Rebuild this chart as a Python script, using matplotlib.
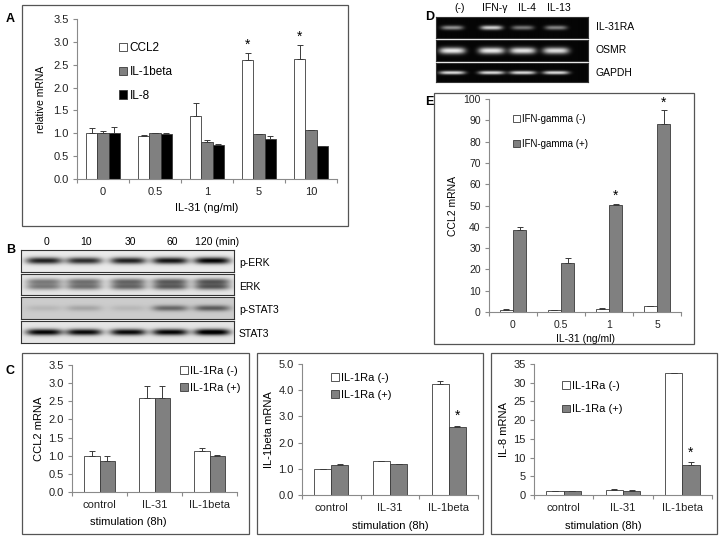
import numpy as np
import matplotlib
matplotlib.use('Agg')
import matplotlib.pyplot as plt
from matplotlib.patches import Rectangle, Patch
from matplotlib.ticker import FormatStrFormatter

plt.rcParams['font.family'] = ['Liberation Sans', 'DejaVu Sans']

W, H = 720, 538

# panel A
a_doses = ['0', '0.5', '1', '5', '10']
a_ccl2 = [1.0, 0.94, 1.37, 2.60, 2.62]
a_ccl2_err = [0.11, 0.02, 0.29, 0.16, 0.32]
a_il1b = [1.01, 1.0, 0.82, 0.98, 1.08]
a_il1b_err = [0.03, 0.0, 0.03, 0.0, 0.0]
a_il8 = [1.0, 0.99, 0.74, 0.88, 0.72]
a_il8_err = [0.14, 0.01, 0.03, 0.05, 0.0]
a_star = [False, False, False, True, True]

# panel B (western blot, relative band darkness per lane)
b_times = ['0', '10', '30', '60', '120']
b_rows = ['p-ERK', 'ERK', 'p-STAT3', 'STAT3']
b_perk = [0.80, 0.75, 0.80, 0.85, 0.92]
b_erk = [0.50, 0.55, 0.60, 0.65, 0.68]
b_pstat3 = [0.08, 0.15, 0.08, 0.40, 0.45]
b_stat3 = [0.90, 0.88, 0.88, 0.90, 0.98]

# panel D (RT-PCR gel, band brightness per lane)
d_lanes = ['(-)', 'IFN-γ', 'IL-4', 'IL-13']
d_rows = ['IL-31RA', 'OSMR', 'GAPDH']
d_il31ra = [0.55, 0.80, 0.45, 0.50]
d_osmr = [0.90, 0.90, 0.88, 0.85]
d_gapdh = [0.85, 0.85, 0.85, 0.85]

# panel E
e_doses = ['0', '0.5', '1', '5']
e_minus = [1.0, 0.8, 1.5, 2.6]
e_minus_err = [0.2, 0.1, 0.3, 0.2]
e_plus = [38.4, 23.0, 50.3, 88.4]
e_plus_err = [1.5, 2.5, 0.5, 6.3]
e_star = [False, False, True, True]

# panel C
c_groups = ['control', 'IL-31', 'IL-1beta']
c1_minus = [1.0, 2.6, 1.14]
c1_minus_err = [0.12, 0.31, 0.06]
c1_plus = [0.85, 2.6, 0.98]
c1_plus_err = [0.15, 0.33, 0.05]
c2_minus = [1.0, 1.29, 4.23]
c2_minus_err = [0.01, 0.01, 0.14]
c2_plus = [1.14, 1.17, 2.60]
c2_plus_err = [0.05, 0.02, 0.04]
c2_star = [False, False, True]
c3_minus = [1.07, 1.43, 32.5]
c3_minus_err = [0.1, 0.1, 0.0]
c3_plus = [0.98, 1.16, 8.0]
c3_plus_err = [0.05, 0.1, 0.7]
c3_star = [False, False, True]

GRAY = '#808080'
EDGE = '#3a3a3a'
AXC = '#8a8a8a'

fig = plt.figure(figsize=(W / 100, H / 100), dpi=100)


def px_axes(x0, y0, x1, y1):
    return fig.add_axes([x0 / W, 1 - y1 / H, (x1 - x0) / W, (y1 - y0) / H])


def box(x0, y0, x1, y1):
    fig.patches.append(Rectangle((x0 / W, 1 - y1 / H), (x1 - x0) / W, (y1 - y0) / H,
                                 transform=fig.transFigure, fill=False,
                                 edgecolor='#555555', linewidth=0.9))


def ftext(x, y, s, **kw):
    fig.text(x / W, 1 - y / H, s, **kw)


def excel_axes(ax, labels, ymax, ystep, fmt, fs=7.5):
    n = len(labels)
    ax.set_xlim(0, n)
    ax.set_ylim(0, ymax)
    ax.patch.set_alpha(0)
    for s in ['top', 'right']:
        ax.spines[s].set_visible(False)
    for s in ['left', 'bottom']:
        ax.spines[s].set_color(AXC)
        ax.spines[s].set_linewidth(0.8)
    ax.set_xticks(np.arange(n + 1))
    ax.set_xticklabels([])
    ax.set_xticks(np.arange(n) + 0.5, labels, minor=True)
    ax.tick_params(axis='x', which='major', length=3, color=AXC, width=0.8)
    ax.tick_params(axis='x', which='minor', length=0, labelsize=fs, pad=6, colors='#222222')
    ax.set_yticks(np.arange(0, ymax + ystep / 2, ystep))
    ax.yaxis.set_major_formatter(FormatStrFormatter(fmt))
    ax.tick_params(axis='y', length=3, color=AXC, width=0.8, labelsize=fs,
                   labelcolor='#222222', pad=3)


def bars(ax, x, vals, errs, color, w):
    ax.bar(x, vals, w, color=color, edgecolor=EDGE, linewidth=0.6, zorder=2)
    ax.errorbar(x, vals, yerr=[np.zeros(len(errs)), errs], fmt='none', ecolor=EDGE,
                elinewidth=0.7, capsize=2, capthick=0.7, zorder=3)


def stars(ax, x, vals, errs, flags, off):
    for xi, v, e, f in zip(x, vals, errs, flags):
        if f:
            ax.text(xi, v + e + off, '*', ha='center', va='bottom', fontsize=10)


def legend(ax, labels, colors, x, y, spacing, fs=7.5):
    handles = [Patch(facecolor=c, edgecolor=EDGE, linewidth=0.6) for c in colors]
    ax.legend(handles, labels, loc='upper left', bbox_to_anchor=(x / W, 1 - y / H),
              bbox_transform=fig.transFigure, frameon=False, fontsize=fs,
              handlelength=0.7, handleheight=0.7, handletextpad=0.2,
              labelspacing=spacing, borderpad=0, borderaxespad=0)


def strip(x0, y0, x1, y1, lane_x, levels, bg, sx, sy, gel=False, double=False):
    ax = px_axes(x0, y0, x1, y1)
    sc = 3
    h, w = (y1 - y0) * sc, (x1 - x0) * sc
    yy, xx = np.mgrid[0:h, 0:w] / sc
    cy = (y1 - y0) / 2
    band = np.zeros((h, w))
    for cx, lv in zip(lane_x, levels):
        prof = np.exp(-((xx - (cx - x0)) / sx) ** 4)
        if double:
            vert = 0.8 * np.exp(-((yy - cy + 2.5) / sy) ** 2) + 0.8 * np.exp(-((yy - cy - 2.5) / sy) ** 2)
        else:
            vert = np.exp(-((yy - cy) / sy) ** 2)
        band += lv * prof * vert
    if gel:
        img = np.clip(bg + band, 0, 1)
    else:
        img = np.clip(bg - band, 0, 1)
    ax.imshow(img, cmap='gray', vmin=0, vmax=1, aspect='auto', interpolation='bilinear')
    ax.set_xticks([])
    ax.set_yticks([])
    for s in ax.spines.values():
        s.set_color('#333333')
        s.set_linewidth(0.8)
    return ax


# ---------------- panel A ----------------
box(22, 5, 348, 226)
ftext(6, 19, 'A', fontsize=9, fontweight='bold', va='center')
ax = px_axes(77, 19, 337, 179)
excel_axes(ax, a_doses, 3.5, 0.5, '%.1f', fs=8)
xa = np.arange(len(a_doses)) + 0.5
bw = 0.22
bars(ax, xa - bw, a_ccl2, a_ccl2_err, 'white', bw)
bars(ax, xa, a_il1b, a_il1b_err, GRAY, bw)
bars(ax, xa + bw, a_il8, a_il8_err, 'black', bw)
stars(ax, xa - bw, a_ccl2, a_ccl2_err, a_star, 0.02)
ax.set_ylabel('relative mRNA', fontsize=7.5, labelpad=5)
ax.set_xlabel('IL-31 (ng/ml)', fontsize=8, labelpad=4)
legend(ax, ['CCL2', 'IL-1beta', 'IL-8'], ['white', GRAY, 'black'], 119, 42, 1.0, fs=8.5)

# ---------------- panel B ----------------
ftext(6, 250, 'B', fontsize=9, fontweight='bold', va='center')
b_lane_x = [44, 84, 128, 170, 212]
for i, (t, lx) in enumerate(zip(b_times, b_lane_x)):
    if i < len(b_times) - 1:
        ftext(lx + 2, 242, t, fontsize=7.5, ha='center', va='center')
    else:
        ftext(lx - 17, 242, t + ' (min)', fontsize=7.5, ha='left', va='center')
b_y = [(250, 272), (274, 295), (297, 319), (321, 343)]
b_levels = [b_perk, b_erk, b_pstat3, b_stat3]
b_bg = [0.92, 0.90, 0.80, 0.90]
b_sy = [3.2, 3.0, 3.0, 3.2]
for (y0, y1), lv, bg, sy, name in zip(b_y, b_levels, b_bg, b_sy, b_rows):
    strip(21, y0, 234, y1, b_lane_x, lv, bg, 18, sy, double=(name == 'ERK'))
    ftext(239, (y0 + y1) / 2 + 2, name, fontsize=7.5, ha='left', va='center')

# ---------------- panel D ----------------
ftext(425, 17, 'D', fontsize=9, fontweight='bold', va='center')
d_lane_x = [452, 491, 522, 555]
d_label_x = [460, 495, 527, 559]
for lab, lx in zip(d_lanes, d_label_x):
    ftext(lx, 8, lab, fontsize=7.5, ha='center', va='center')
d_y = [(17, 38), (40, 61), (63, 82)]
d_levels = [d_il31ra, d_osmr, d_gapdh]
d_sy = [2.2, 3.3, 1.8]
d_sx = [11, 13, 13]
for (y0, y1), lv, sy, sx, name in zip(d_y, d_levels, d_sy, d_sx, d_rows):
    strip(436, y0, 588, y1, d_lane_x, lv, 0.02, sx, sy, gel=True)
    ftext(596, (y0 + y1) / 2, name, fontsize=7.5, ha='left', va='center')

# ---------------- panel E ----------------
box(434, 93, 694, 344)
ftext(425, 102, 'E', fontsize=9, fontweight='bold', va='center')
ax = px_axes(489, 99, 681, 312)
excel_axes(ax, e_doses, 100, 10, '%d')
xe = np.arange(len(e_doses)) + 0.5
bw = 0.28
bars(ax, xe - bw / 2, e_minus, e_minus_err, 'white', bw)
bars(ax, xe + bw / 2, e_plus, e_plus_err, GRAY, bw)
stars(ax, xe + bw / 2, e_plus, e_plus_err, e_star, 0.3)
ax.set_ylabel('CCL2 mRNA', fontsize=7.5, labelpad=4)
ax.set_xlabel('IL-31 (ng/ml)', fontsize=7.5, labelpad=3)
legend(ax, ['IFN-gamma (-)', 'IFN-gamma (+)'], ['white', GRAY], 513, 114, 1.55, fs=7)

# ---------------- panel C ----------------
ftext(6, 371, 'C', fontsize=9, fontweight='bold', va='center')
c_panels = [
    ((22, 353, 249, 534), (72, 365, 237, 492), 3.5, 0.5, '%.1f', 'CCL2 mRNA',
     c1_minus, c1_minus_err, c1_plus, c1_plus_err, [False] * 3, (180, 366, 0.6), 0.34),
    ((257, 353, 483, 534), (302, 364, 478, 495), 5.0, 1.0, '%.1f', 'IL-1beta mRNA',
     c2_minus, c2_minus_err, c2_plus, c2_plus_err, c2_star, (331, 373, 0.6), 0.5),
    ((491, 353, 717, 534), (534, 364, 712, 495), 35, 5, '%d', 'IL-8 mRNA',
     c3_minus, c3_minus_err, c3_plus, c3_plus_err, c3_star, (562, 381, 1.2), 0.39),
]
xc = np.arange(len(c_groups)) + 0.5
bw = 0.29
for bx, axp, ymax, ystep, fmt, ylab, mv, me, pv, pe, st, lg, xl in c_panels:
    box(*bx)
    ax = px_axes(*axp)
    excel_axes(ax, c_groups, ymax, ystep, fmt, fs=8)
    bars(ax, xc - bw / 2, mv, me, 'white', bw)
    bars(ax, xc + bw / 2, pv, pe, GRAY, bw)
    stars(ax, xc + bw / 2, pv, pe, st, ymax * 0.02)
    ax.set_ylabel(ylab, fontsize=8, labelpad=3)
    ax.set_xlabel('stimulation (8h)', fontsize=8, labelpad=4)
    ax.xaxis.set_label_coords(xl, -0.2)
    legend(ax, ['IL-1Ra (-)', 'IL-1Ra (+)'], ['white', GRAY], lg[0], lg[1], lg[2], fs=8)

fig.savefig('out.png', dpi=100)
